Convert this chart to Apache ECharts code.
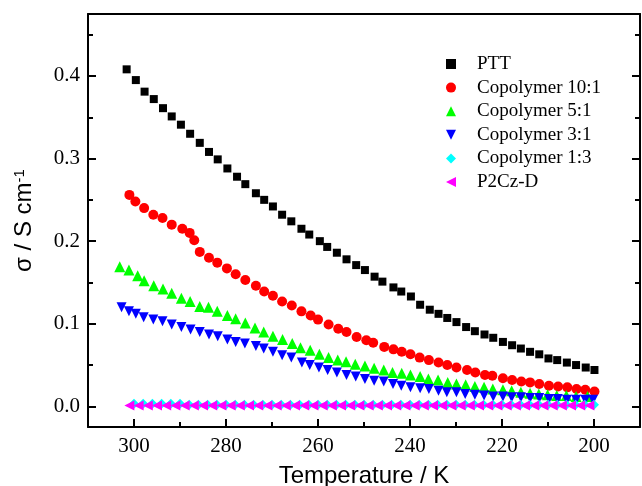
<!DOCTYPE html>
<html>
<head>
<meta charset="utf-8">
<script src="https://cdn.jsdelivr.net/npm/echarts@6/dist/echarts.min.js"></script>
<style>html,body{margin:0;padding:0;background:#fff;}#c{width:642px;height:486px;}</style>
</head>
<body>
<div id="c"></div>
<script>
// ---- data ----
const seriesNames = ['PTT', 'Copolymer 10:1', 'Copolymer 5:1', 'Copolymer 3:1', 'Copolymer 1:3', 'P2Cz-D'];

const pttT = [301.6,299.6,297.7,295.7,293.7,291.8,289.8,287.8,285.7,283.7,281.8,279.7,277.6,275.8,273.5,271.7,269.8,267.8,265.8,263.6,261.9,259.6,258.0,255.9,253.8,251.7,249.8,247.7,246.0,243.6,241.9,239.8,237.8,235.7,233.8,231.9,229.9,227.8,225.9,223.8,221.9,219.8,217.8,215.9,213.9,211.9,209.9,208.0,205.9,203.9,201.8,199.9];
const pttS = [0.408,0.395,0.381,0.372,0.361,0.351,0.341,0.330,0.319,0.308,0.299,0.288,0.278,0.269,0.258,0.250,0.242,0.232,0.224,0.215,0.208,0.200,0.193,0.186,0.178,0.171,0.165,0.157,0.151,0.144,0.139,0.133,0.123,0.117,0.112,0.107,0.102,0.096,0.091,0.087,0.083,0.078,0.074,0.070,0.066,0.063,0.058,0.056,0.053,0.050,0.047,0.044];

const c101T = [301.0,299.7,297.8,295.8,293.8,291.8,289.5,287.9,286.9,285.7,283.7,281.9,279.8,277.9,275.8,273.5,271.7,269.8,267.8,265.7,263.6,261.6,260.0,257.7,255.6,253.8,251.6,249.5,248.0,245.6,243.6,241.8,239.9,237.9,235.9,233.8,231.9,229.9,227.6,225.8,223.7,222.1,219.8,217.8,215.8,213.9,211.9,209.8,207.8,205.8,203.8,201.9,199.9];
const c101S = [0.256,0.248,0.240,0.232,0.228,0.220,0.215,0.210,0.201,0.187,0.180,0.174,0.167,0.160,0.153,0.146,0.139,0.134,0.127,0.122,0.115,0.110,0.105,0.099,0.094,0.090,0.084,0.080,0.077,0.072,0.069,0.066,0.063,0.059,0.056,0.053,0.050,0.047,0.044,0.041,0.038,0.037,0.034,0.032,0.030,0.029,0.027,0.025,0.024,0.023,0.021,0.020,0.018];

const c51T = [303.1,301.1,299.2,297.8,295.7,293.7,291.8,289.7,287.8,285.7,283.8,281.9,279.7,277.9,275.8,273.7,271.8,269.8,267.7,265.6,263.8,261.7,259.7,257.7,255.7,253.9,251.9,249.8,247.8,245.7,243.8,241.8,239.9,237.8,236.0,233.9,231.8,229.9,227.9,225.9,223.9,222.0,219.8,217.9,215.9,213.9,212.0,210.1,208.1,206.0,203.9,201.4];
const c51S = [0.169,0.165,0.158,0.152,0.146,0.142,0.137,0.131,0.127,0.121,0.120,0.115,0.110,0.106,0.101,0.095,0.090,0.085,0.081,0.076,0.071,0.068,0.063,0.059,0.056,0.054,0.051,0.049,0.046,0.044,0.041,0.040,0.038,0.036,0.033,0.032,0.029,0.027,0.026,0.024,0.023,0.021,0.020,0.019,0.017,0.016,0.015,0.014,0.013,0.013,0.012,0.012];

const c31T = [302.7,301.1,299.6,297.9,295.8,293.8,291.8,289.7,287.7,285.7,283.7,281.8,279.7,277.9,275.9,273.5,271.8,269.8,267.8,265.8,263.5,261.8,259.8,257.9,255.9,253.8,251.8,249.8,247.8,245.7,243.7,241.9,239.9,237.8,235.9,233.8,232.0,229.9,228.0,225.9,223.9,221.9,219.8,217.9,215.9,213.9,211.9,209.8,207.9,205.9,203.9,201.9,200.2];
const c31S = [0.120,0.115,0.112,0.108,0.105,0.103,0.099,0.096,0.093,0.090,0.087,0.085,0.081,0.078,0.076,0.073,0.070,0.066,0.062,0.059,0.053,0.050,0.047,0.044,0.041,0.038,0.036,0.033,0.031,0.030,0.027,0.025,0.023,0.022,0.021,0.019,0.017,0.017,0.015,0.014,0.013,0.012,0.012,0.011,0.011,0.010,0.010,0.009,0.009,0.008,0.008,0.008,0.008];

const c13T = [300,298,296,294,292,290,288,286,284,282,280,278,276,274,272,270,268,266,264,262,260,258,256,254,252,250,248,246,244,242,240,238,236,234,232,230,228,226,224,222,220,218,216,214,212,210,208,206,204,202,200];
const c13S = [0.003,0.003,0.003,0.003,0.003,0.003,0.002,0.002,0.002,0.002,0.002,0.002,0.002,0.002,0.002,0.002,0.002,0.002,0.002,0.002,0.002,0.002,0.002,0.002,0.002,0.002,0.002,0.002,0.002,0.002,0.002,0.002,0.002,0.002,0.002,0.002,0.002,0.002,0.002,0.002,0.002,0.002,0.002,0.002,0.002,0.002,0.002,0.002,0.002,0.002,0.002];

const p2czT = [301,299,297,295,293,291,289,287,285,283,281,279,277,275,273,271,269,267,265,263,261,259,257,255,253,251,249,247,245,243,241,239,237,235,233,231,229,227,225,223,221,219,217,215,213,211,209,207,205,203,201];
const p2czS = [0.001,0.001,0.001,0.001,0.001,0.001,0.001,0.001,0.001,0.001,0.001,0.001,0.001,0.001,0.001,0.001,0.001,0.001,0.001,0.001,0.001,0.001,0.001,0.001,0.001,0.001,0.001,0.001,0.001,0.001,0.001,0.001,0.001,0.001,0.001,0.001,0.001,0.001,0.001,0.001,0.001,0.001,0.001,0.001,0.001,0.001,0.001,0.001,0.001,0.001,0.001];

// ---- chart ----
function zip(t, s) { return t.map((v, i) => [v, s[i]]); }
const serif = 'Liberation Serif';
const sans = 'Liberation Sans';

const styles = [
  { color: '#000000', symbol: 'rect', size: 8, rot: 0, icon: 'path://M1,1L9,1L9,9L1,9Z' },
  { color: '#ff0000', symbol: 'circle', size: 10, rot: 0, icon: 'circle' },
  { color: '#00ff00', symbol: 'triangle', size: 11, rot: 0, icon: 'path://M5,0L10,10L0,10Z' },
  { color: '#0000ff', symbol: 'triangle', size: 10, rot: 180, icon: 'path://M0,0L10,0L5,10Z' },
  { color: '#00ffff', symbol: 'diamond', size: 10, rot: 0, icon: 'diamond' },
  { color: '#ff00ff', symbol: 'triangle', size: 10, rot: 90, icon: 'path://M0,5L10,0L10,10Z' }
];
const datasets = [zip(pttT, pttS), zip(c101T, c101S), zip(c51T, c51S), zip(c31T, c31S), zip(c13T, c13S), zip(p2czT, p2czS)];

const axisLineStyle = { show: true, onZero: false, lineStyle: { color: '#000', width: 2 } };
const tickStyle = { show: true, inside: true, length: 8, lineStyle: { color: '#000', width: 2 } };
const minorStyle = { show: true, splitNumber: 2, length: 5, lineStyle: { color: '#000', width: 2 } };
const labelStyle = { fontFamily: serif, fontSize: 21, color: '#000', showMinLabel: false, showMaxLabel: false };

const chart = echarts.init(document.getElementById('c'), null, { renderer: 'canvas' });
chart.setOption({
  animation: false,
  backgroundColor: '#fff',
  textStyle: { fontFamily: serif },
  grid: { left: 88, right: 2, top: 14, bottom: 59, containLabel: false, outerBoundsMode: 'none' },
  legend: {
    orient: 'vertical',
    left: 441, top: 49,
    itemWidth: 10, itemHeight: 10, itemGap: 3.6,
    textStyle: { fontFamily: serif, fontSize: 19, color: '#000', lineHeight: 20, padding: [0, 0, 0, 16] },
    data: seriesNames.map((n, i) => ({ name: n, icon: styles[i].icon, itemStyle: { color: styles[i].color } }))
  },
  xAxis: [{
    type: 'value', inverse: true, min: 190, max: 310, splitNumber: 6,
    name: 'Temperature / K', nameLocation: 'middle', nameGap: 37,
    nameTextStyle: { fontFamily: sans, fontSize: 24, color: '#000' },
    axisLine: axisLineStyle,
    axisTick: tickStyle,
    minorTick: minorStyle,
    axisLabel: Object.assign({ margin: 9 }, labelStyle),
    splitLine: { show: false }
  }, {
    type: 'value', inverse: true, min: 190, max: 310, position: 'top',
    axisLine: axisLineStyle, axisTick: { show: false }, axisLabel: { show: false }, splitLine: { show: false }
  }],
  yAxis: [{
    type: 'value', min: -0.025, max: 0.475, splitNumber: 5,
    name: 'σ / S cm{sup|-1}', nameLocation: 'middle', nameGap: 52, nameRotate: 90,
    nameTextStyle: { fontFamily: sans, fontSize: 24, color: '#000',
      rich: { sup: { fontFamily: sans, fontSize: 15, color: '#000', verticalAlign: 'top', padding: [0, 0, 6, 0] } } },
    axisLine: axisLineStyle,
    axisTick: tickStyle,
    minorTick: minorStyle,
    axisLabel: Object.assign({ margin: 8, formatter: v => v.toFixed(1) }, labelStyle),
    splitLine: { show: false }
  }, {
    type: 'value', min: -0.025, max: 0.475, splitNumber: 5, position: 'right',
    axisLine: axisLineStyle,
    axisTick: tickStyle,
    minorTick: minorStyle,
    axisLabel: { show: false }, splitLine: { show: false }
  }],
  series: seriesNames.map((name, i) => ({
    name: name,
    type: 'scatter',
    xAxisIndex: 0, yAxisIndex: 0,
    data: datasets[i],
    symbol: styles[i].symbol,
    symbolSize: styles[i].size,
    symbolRotate: styles[i].rot,
    itemStyle: { color: styles[i].color, opacity: 1 },
    emphasis: { disabled: true }
  }))
});
</script>
</body>
</html>
